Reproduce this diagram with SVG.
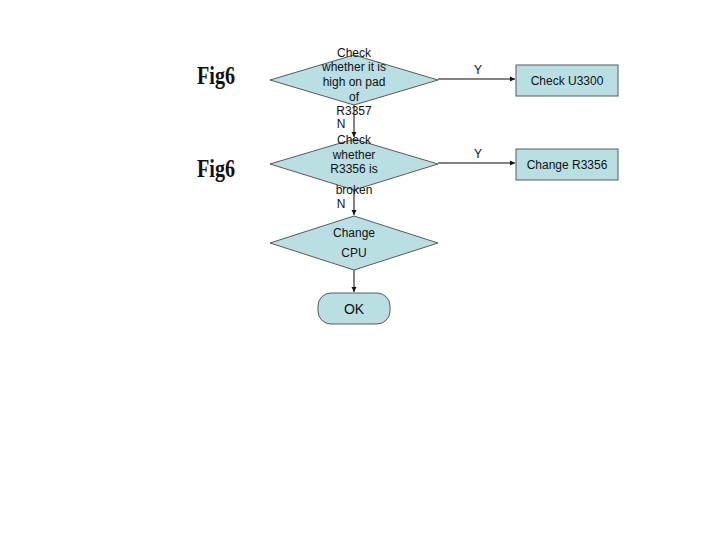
<svg xmlns="http://www.w3.org/2000/svg" width="720" height="540" viewBox="0 0 720 540">
<style>
.shape{fill:#b9dfe2;stroke:#5a5a5a;stroke-width:1}
.t{font-family:"Liberation Sans",Arial,sans-serif;font-size:12px;fill:#111;text-anchor:middle}
.fig{font-family:"Liberation Serif","DejaVu Serif",serif;font-weight:bold;font-size:25px;fill:#111}
.c{stroke:#5a5a5a;stroke-width:1.5;fill:none;marker-end:url(#ah)}
</style>
<defs>
<marker id="ah" markerWidth="6" markerHeight="6" refX="5" refY="3" orient="auto" markerUnits="userSpaceOnUse">
<path d="M0,0.5 L5,3 L0,5.5 z" fill="#111"/>
</marker>
</defs>
<rect width="720" height="540" fill="#fff"/>
<text class="fig" x="197" y="84" textLength="38" lengthAdjust="spacingAndGlyphs">Fig6</text>
<text class="fig" x="197" y="177" textLength="38" lengthAdjust="spacingAndGlyphs">Fig6</text>
<g id="connectors">
<line class="c" x1="438" y1="79" x2="515" y2="79"/>
<line class="c" x1="438" y1="163" x2="515" y2="163"/>
<line class="c" x1="354" y1="105" x2="354" y2="137"/>
<line class="c" x1="354" y1="190" x2="354" y2="215"/>
<line class="c" x1="354" y1="270" x2="354" y2="292"/>
<text class="t" x="478" y="74">Y</text>
<text class="t" x="478" y="158">Y</text>
<text class="t" x="341" y="128">N</text>
<text class="t" x="341" y="208">N</text>
</g>
<g id="d1">
<polygon class="shape" points="354,55 438,80 354,105 270,80"/>
<text class="t" x="354" y="57">Check</text>
<text class="t" x="354" y="71">whether it is</text>
<text class="t" x="354" y="86">high on pad</text>
<text class="t" x="354" y="101">of</text>
<text class="t" x="354" y="115">R3357</text>
</g>
<g id="d2">
<polygon class="shape" points="354,139 438,164 354,190 270,164"/>
<text class="t" x="354" y="144">Check</text>
<text class="t" x="354" y="159">whether</text>
<text class="t" x="354" y="173">R3356 is</text>
<text class="t" x="354" y="194">broken</text>
</g>
<g id="d3">
<polygon class="shape" points="354,216 438,243 354,270 270,243"/>
<text class="t" x="354" y="237">Change</text>
<text class="t" x="354" y="257">CPU</text>
</g>
<g id="b1">
<rect class="shape" x="516" y="65" width="102" height="31"/>
<text class="t" x="567" y="85">Check U3300</text>
</g>
<g id="b2">
<rect class="shape" x="516" y="149" width="102" height="31"/>
<text class="t" x="567" y="169">Change R3356</text>
</g>
<g id="ok">
<rect class="shape" x="318" y="293" width="72" height="31" rx="13" ry="13"/>
<text class="t" x="354" y="314" style="font-size:14px">OK</text>
</g>
</svg>
